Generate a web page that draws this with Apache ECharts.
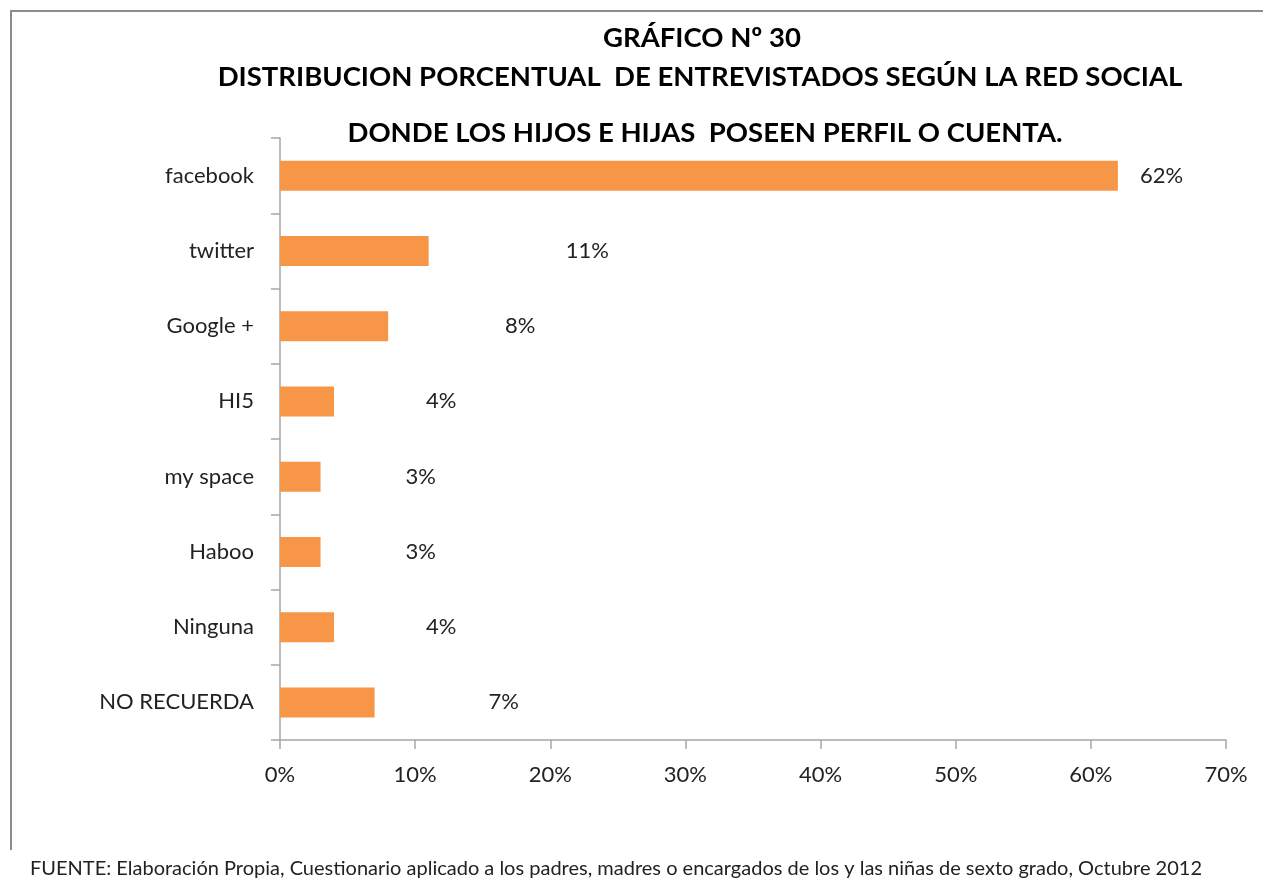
<!DOCTYPE html>
<html>
<head>
<meta charset="utf-8">
<script src="https://cdn.jsdelivr.net/npm/echarts@6/dist/echarts.min.js"></script>
<style>
  html, body { margin: 0; padding: 0; background: #fff; }
  #main { width: 1263px; height: 888px; }
</style>
</head>
<body>
<div id="main"></div>
<script>
(function(){
    var categories = ['facebook', 'twitter', 'Google +', 'HI5', 'my space', 'Haboo', 'Ninguna', 'NO RECUERDA'];
    var values = [62, 11, 8, 4, 3, 3, 4, 7];
    var xTicks = [0, 10, 20, 30, 40, 50, 60, 70];
    // gap between bar end and its label, as in the original
    var labelGap = [22, 137, 117, 92, 85, 85, 92, 114];

    var font = 'Lato, "Open Sans", sans-serif';
    var myChart = echarts.init(document.getElementById('main'));

    var data = values.map(function(v, i){
        return {
            value: v,
            label: { distance: labelGap[i] }
        };
    });

    var titleStyle = { fontFamily: font, fontSize: 27.5, fontWeight: 'bold', color: '#000' };

    var option = {
        animation: false,
        backgroundColor: '#fff',
        title: [
            { text: 'GRÁFICO Nº 30', left: 697, top: 19, textAlign: 'center', textStyle: titleStyle },
            { text: 'DISTRIBUCION PORCENTUAL  DE ENTREVISTADOS SEGÚN LA RED SOCIAL', left: 695, top: 58, textAlign: 'center', textStyle: titleStyle },
            { text: 'DONDE LOS HIJOS E HIJAS  POSEEN PERFIL O CUENTA.', left: 700, top: 114, textAlign: 'center', textStyle: titleStyle }
        ],
        graphic: [
            {
                type: 'polyline',
                shape: { points: [[11, 850], [11, 11], [1263, 11]] },
                style: { stroke: '#8c8c8c', lineWidth: 2, fill: null }
            },
            {
                type: 'text',
                left: 30, top: 859,
                style: {
                    text: 'FUENTE: Elaboración Propia, Cuestionario aplicado a los padres, madres o encargados de los y las niñas de sexto grado, Octubre 2012',
                    font: '20px ' + font,
                    fill: '#222'
                }
            }
        ],
        grid: { left: 280, right: 37, top: 138, bottom: 148, containLabel: false },
        xAxis: {
            type: 'value',
            min: xTicks[0],
            max: xTicks[xTicks.length - 1],
            interval: 10,
            splitLine: { show: false },
            axisLine: { show: true, lineStyle: { color: '#a6a6a6', width: 1.5 } },
            axisTick: { show: true, length: 9, lineStyle: { color: '#a6a6a6', width: 1.5 } },
            axisLabel: {
                margin: 24,
                fontFamily: font, fontSize: 22, color: '#222',
                formatter: function(v){ return v + '%'; }
            }
        },
        yAxis: {
            type: 'category',
            inverse: true,
            data: categories,
            axisLine: { show: true, lineStyle: { color: '#a6a6a6', width: 1.5 } },
            axisTick: { show: true, length: 9, lineStyle: { color: '#a6a6a6', width: 1.5 } },
            axisLabel: { margin: 26, fontFamily: font, fontSize: 22, color: '#222' }
        },
        series: [{
            type: 'bar',
            data: data,
            barWidth: 30,
            itemStyle: { color: '#f79646' },
            label: {
                show: true,
                position: 'right',
                fontFamily: font, fontSize: 22, color: '#222',
                formatter: '{c}%'
            }
        }]
    };
    myChart.setOption(option);
})();
</script>
</body>
</html>
